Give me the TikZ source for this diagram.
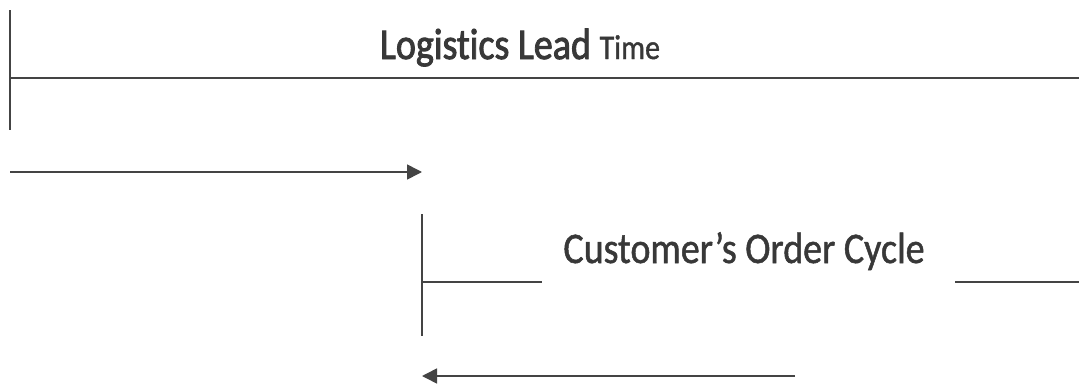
\documentclass[tikz,border=0pt]{standalone}
\usepackage{fontspec}
\setmainfont[Ligatures=NoCommon]{Carlito}
\newfontfamily\heavyf[Ligatures=NoCommon,FakeBold=2.2]{Carlito}
\newfontfamily\midf[Ligatures=NoCommon,FakeBold=1.2]{Carlito}
\usetikzlibrary{arrows.meta}
\definecolor{ln}{HTML}{444444}
\definecolor{tx}{HTML}{383838}
\tikzset{
  ln/.style={draw=ln, line width=1.6pt},
  arr/.style={ln, -{Triangle[length=15pt,width=15pt]}},
  lbl/.style={text=tx, inner sep=0pt, anchor=base}
}
\begin{document}
\begin{tikzpicture}[x=1pt,y=-1pt]
\useasboundingbox[fill=white] (0,0) rectangle (1079,383);
% top bracket
\coordinate (t1) at (10,10);
\coordinate (t2) at (10,130);
\coordinate (h1) at (10,78);
\coordinate (h2) at (1079,78);
\draw[ln] (t1) -- (t2);
\draw[ln] (h1) -- (h2);
\node[lbl] (lead) at (520,59) {\scalebox{1}[1.15]{\heavyf\fontsize{38}{40}\selectfont Logistics Lead \midf\fontsize{30}{32}\selectfont Time}};
% arrow right
\coordinate (a1) at (10,172);
\coordinate (a2) at (422,172);
\draw[arr] (a1) -- (a2);
% bottom bracket
\coordinate (b1) at (422,214);
\coordinate (b2) at (422,336);
\coordinate (c1) at (422,282);
\coordinate (c2) at (542,282);
\coordinate (c3) at (955,282);
\coordinate (c4) at (1079,282);
\draw[ln] (b1) -- (b2);
\draw[ln] (c1) -- (c2);
\draw[ln] (c3) -- (c4);
\node[lbl] (cycle) at (744,263) {\scalebox{1}[1.15]{\midf\fontsize{38}{40}\selectfont Customer’s Order Cycle}};
% arrow left
\coordinate (d1) at (795,376);
\coordinate (d2) at (422,376);
\draw[arr] (d1) -- (d2);
\end{tikzpicture}
\end{document}
